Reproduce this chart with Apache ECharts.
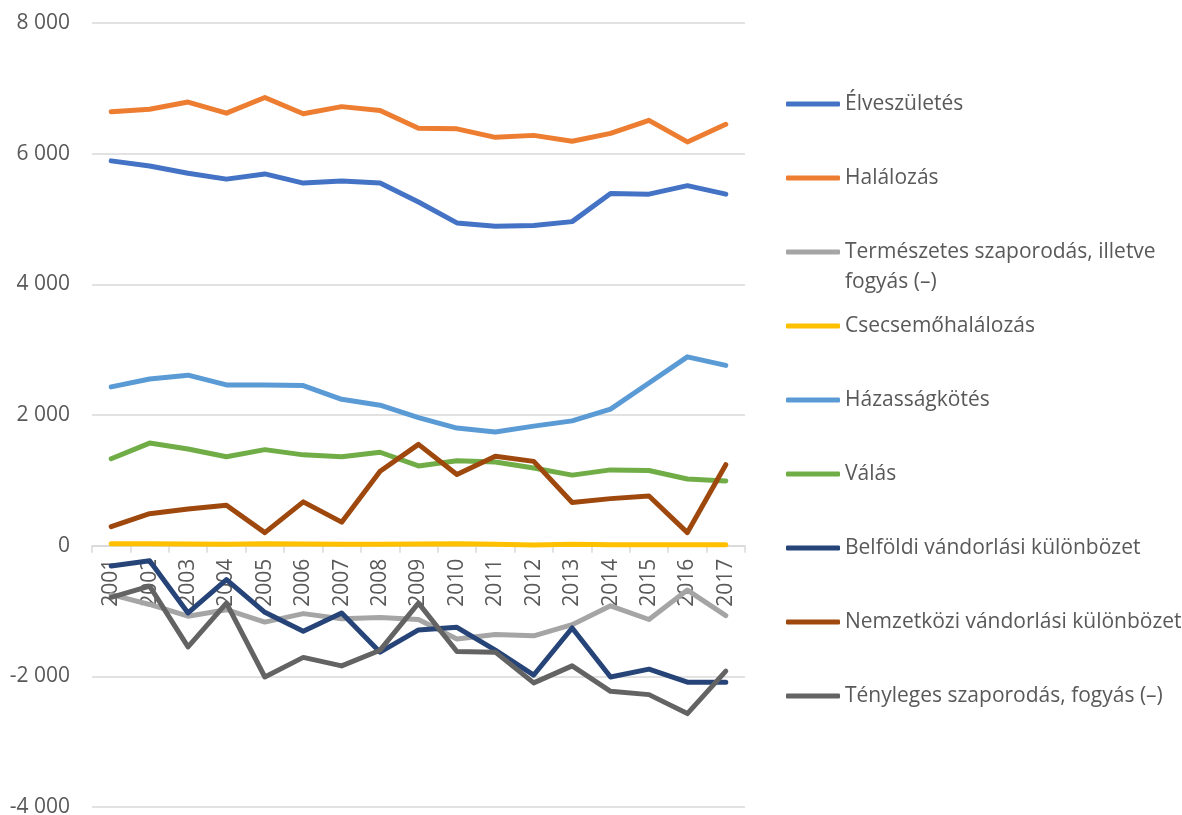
<!DOCTYPE html>
<html>
<head>
<meta charset="utf-8">
<script src="https://cdn.jsdelivr.net/npm/echarts@6/dist/echarts.min.js"></script>
<style>
  html, body { margin: 0; padding: 0; background: #fff; }
  #chart { width: 1182px; height: 815px; }
</style>
</head>
<body>
<div id="chart"></div>
<script>
// years on the category axis
var years = ['2001', '2002', '2003', '2004', '2005', '2006', '2007', '2008', '2009',
  '2010', '2011', '2012', '2013', '2014', '2015', '2016', '2017'];

var elveszuletes = [5890, 5810, 5700, 5610, 5690, 5550, 5580, 5550, 5260, 4940, 4890, 4900, 4960, 5390, 5380, 5510, 5380];
var halalozas = [6640, 6680, 6790, 6620, 6860, 6610, 6720, 6660, 6390, 6380, 6250, 6280, 6190, 6310, 6510, 6180, 6450];
var termeszetes = [-750, -900, -1080, -980, -1170, -1040, -1120, -1100, -1130, -1430, -1360, -1380, -1210, -920, -1130, -680, -1070];
var csecsemo = [30, 30, 25, 20, 30, 25, 20, 20, 25, 30, 20, 10, 20, 15, 15, 15, 15];
var hazassag = [2430, 2550, 2610, 2460, 2460, 2450, 2240, 2150, 1960, 1800, 1740, 1830, 1910, 2090, 2490, 2890, 2760];
var valas = [1330, 1570, 1480, 1360, 1470, 1390, 1360, 1430, 1220, 1300, 1280, 1190, 1080, 1160, 1150, 1020, 990];
var belfoldi = [-310, -230, -1030, -520, -1020, -1310, -1030, -1630, -1290, -1250, -1600, -1980, -1260, -2010, -1890, -2090, -2090];
var nemzetkozi = [290, 490, 560, 620, 200, 670, 360, 1140, 1550, 1090, 1370, 1290, 660, 720, 760, 200, 1240];
var tenyleges = [-790, -620, -1550, -880, -2010, -1710, -1840, -1600, -880, -1620, -1630, -2100, -1840, -2230, -2280, -2570, -1920];

var names = ['Élveszületés', 'Halálozás', 'Természetes szaporodás, illetve fogyás (–)', 'Csecsemőhalálozás',
  'Házasságkötés', 'Válás', 'Belföldi vándorlási különbözet', 'Nemzetközi vándorlási különbözet',
  'Tényleges szaporodás, fogyás (–)'];
var colors = ['#4472C4', '#ED7D31', '#A5A5A5', '#FFC000', '#5B9BD5', '#70AD47', '#264478', '#9E480E', '#636363'];
var values = [elveszuletes, halalozas, termeszetes, csecsemo, hazassag, valas, belfoldi, nemzetkozi, tenyleges];

var font = '"Open Sans", "Noto Sans", sans-serif';
var textColor = '#595959';

var mychart = echarts.init(document.getElementById('chart'));

var series = [];
for (var i = 0; i < names.length; i++) {
  series.push({
    name: names[i],
    type: 'line',
    data: values[i],
    symbol: 'none',
    color: colors[i],
    lineStyle: { width: 5, cap: 'round', join: 'round' },
    animation: false
  });
}

// one legend per item so the vertical spacing can follow the original
var legendY = [104, 178, 252, 326, 400, 474, 548, 622, 696];
var legends = [];
for (var j = 0; j < names.length; j++) {
  var wrapped = j === 2;
  legends.push({
    orient: 'vertical',
    left: 786,
    top: wrapped ? legendY[j] - 45 : legendY[j] - 12,
    padding: 0,
    data: [names[j]],
    icon: 'roundRect',
    itemWidth: 54,
    itemHeight: 5,
    itemGap: 0,
    selectedMode: false,
    formatter: wrapped ? function () { return '\nTermészetes szaporodás, illetve\nfogyás (–)'; } : '{name}',
    textStyle: {
      fontFamily: font,
      fontSize: 21,
      color: textColor,
      lineHeight: wrapped ? 30 : 24
    }
  });
}

// grid geometry: 8000 at y=23, -4000 at y=807, so zero sits 1/3 of the height above the bottom
var gridTop = 23, gridBottom = 8;
var plotH = 815 - gridTop - gridBottom;

var option = {
  backgroundColor: '#fff',
  animation: false,
  grid: { left: 92, right: 437, top: gridTop, bottom: gridBottom, containLabel: false, outerBoundsMode: 'none' },
  legend: legends,
  xAxis: {
    type: 'category',
    data: years,
    boundaryGap: true,
    position: 'bottom',
    offset: -plotH * 4000 / 12000,
    axisLine: { onZero: false, lineStyle: { color: '#d9d9d9', width: 1.5 } },
    axisTick: { show: true, length: 7, lineStyle: { color: '#d9d9d9', width: 1.5 } },
    axisLabel: {
      rotate: 90,
      margin: 13,
      fontFamily: font,
      fontSize: 21,
      color: textColor
    }
  },
  yAxis: {
    type: 'value',
    min: -4000,
    max: 8000,
    interval: 2000,
    axisLine: { show: false },
    axisTick: { show: false },
    splitLine: { lineStyle: { color: '#d9d9d9', width: 1.5 } },
    axisLabel: {
      margin: 22,
      fontFamily: font,
      fontSize: 21,
      color: textColor,
      formatter: function (v) {
        var s = Math.abs(v).toString().replace(/\B(?=(\d{3})+(?!\d))/g, ' ');
        return (v < 0 ? '-' : '') + s;
      }
    }
  },
  series: series
};

mychart.setOption(option);
</script>
</body>
</html>
